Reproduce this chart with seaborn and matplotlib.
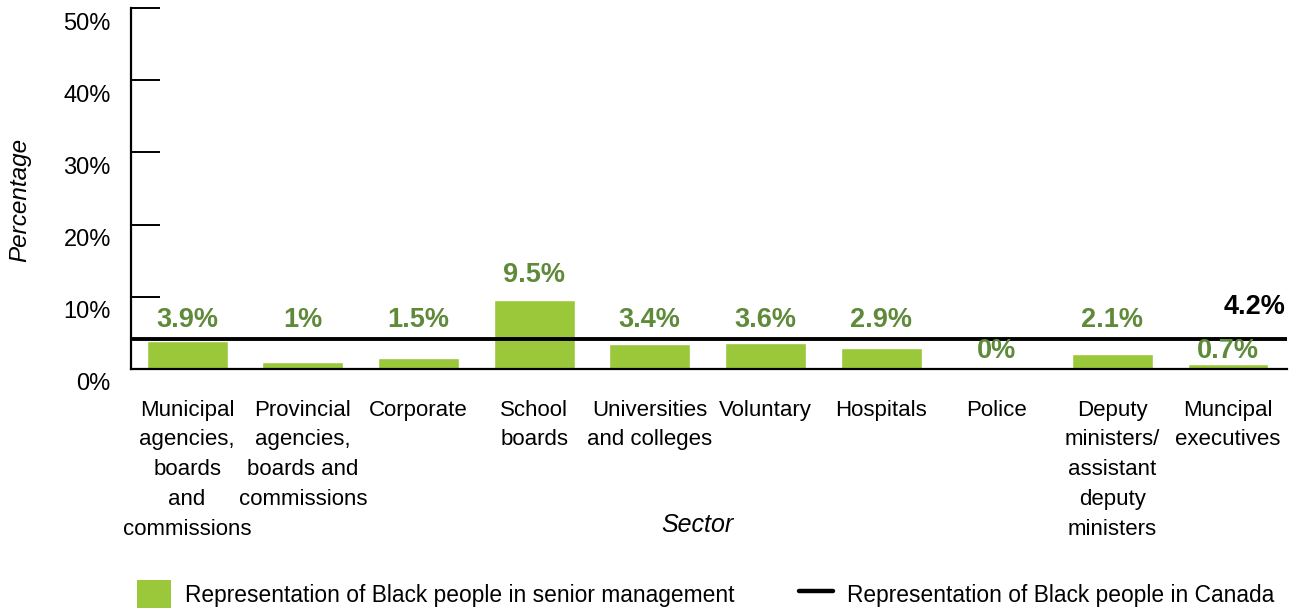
import matplotlib
matplotlib.use("Agg")
import matplotlib.pyplot as plt
import matplotlib.transforms as mtransforms
from matplotlib.patches import Patch
from matplotlib.lines import Line2D
import seaborn as sns
import pandas as pd

sectors = [
    "Municipal\nagencies,\nboards\nand\ncommissions",
    "Provincial\nagencies,\nboards and\ncommissions",
    "Corporate",
    "School\nboards",
    "Universities\nand colleges",
    "Voluntary",
    "Hospitals",
    "Police",
    "Deputy\nministers/\nassistant\ndeputy\nministers",
    "Muncipal\nexecutives",
]
senior_pct = [3.9, 1.0, 1.5, 9.5, 3.4, 3.6, 2.9, 0.0, 2.1, 0.7]
value_labels = ["3.9%", "1%", "1.5%", "9.5%", "3.4%", "3.6%", "2.9%", "0%", "2.1%", "0.7%"]
canada_pct = 4.2
y_ticks = [0, 10, 20, 30, 40, 50]
y_tick_labels = ["0%", "10%", "20%", "30%", "40%", "50%"]
labels_below_line = {"Police", "Muncipal\nexecutives"}
legend_labels = ["Representation of Black people in senior management",
                 "Representation of Black people in Canada"]

BAR_GREEN = "#9bc83b"
LABEL_GREEN = "#5e8a3a"

sns.set_theme(style="white")
plt.rcParams["font.family"] = ["Liberation Sans", "DejaVu Sans"]
plt.rcParams.update({"text.color": "black", "axes.labelcolor": "black",
                     "xtick.color": "black", "ytick.color": "black"})

df = pd.DataFrame({"sector": sectors, "pct": senior_pct})

fig = plt.figure(figsize=(12.98, 6.11), dpi=100)
ax = fig.add_axes([131 / 1298, 1 - 369 / 611, (1287 - 131) / 1298, (369 - 8) / 611])

sns.barplot(data=df, x="sector", y="pct", color=BAR_GREEN, width=0.70,
            saturation=1, ax=ax)
ax.axhline(canada_pct, color="black", lw=2.8)
if ax.get_legend() is not None:
    ax.get_legend().remove()

ax.set_xlim(-0.485, 9.51)
ax.set_ylim(0, 50)
ax.set_yticks(y_ticks)
ax.set_yticklabels(y_tick_labels, fontsize=17, color="black")
ax.tick_params(axis="y", left=True, direction="in", length=21, width=1.4,
               pad=14.5, color="black", labelcolor="black")
ax.tick_params(axis="x", bottom=False, length=0, pad=22, labelsize=16,
               labelcolor="black")
for lbl in ax.get_xticklabels():
    lbl.set_linespacing(1.55)
    lbl.set_va("top")
# y tick labels sit a little below their ticks
offset = mtransforms.ScaledTranslation(0, -13 / 100, fig.dpi_scale_trans)
for lbl in ax.get_yticklabels():
    lbl.set_transform(lbl.get_transform() + offset)

for side in ["top", "right"]:
    ax.spines[side].set_visible(False)
for side in ["left", "bottom"]:
    ax.spines[side].set_color("black")
    ax.spines[side].set_linewidth(1.6)

# value labels above the bars / reference line
for i, (sec, v, txt) in enumerate(zip(sectors, senior_pct, value_labels)):
    if sec in labels_below_line:
        y = canada_pct - 1.7
    elif v > canada_pct + 2:
        y = v + 3.5
    else:
        y = canada_pct + 2.6
    ax.text(i, y, txt, ha="center", va="center", fontsize=19.5,
            fontweight="bold", color=LABEL_GREEN)

ax.text(9.5, canada_pct + 4.4, f"{canada_pct}%", ha="right", va="center",
        fontsize=19.5, fontweight="bold", color="black")

ax.set_xlabel("Sector", fontsize=18, style="italic")
ax.xaxis.set_label_coords((697 - 131) / (1287 - 131), -(525 - 369) / (369 - 8))
ax.xaxis.label.set_va("center")
ax.set_ylabel("Percentage", fontsize=17.5, style="italic")
ax.yaxis.set_label_coords(-(131 - 20) / (1287 - 131), (369 - 200) / (369 - 8))
ax.yaxis.label.set_va("center")

handles = [Patch(facecolor=BAR_GREEN, edgecolor="none"),
           Line2D([], [], color="black", lw=3.2)]
fig.legend(handles, legend_labels, loc="center left",
           bbox_to_anchor=(137 / 1298, 1 - 594 / 611), ncol=2, frameon=False,
           fontsize=16.4, handlelength=1.5, handleheight=1.45, handletextpad=0.62,
           columnspacing=2.8, borderpad=0, borderaxespad=0)

fig.savefig("out.png", dpi=100)
